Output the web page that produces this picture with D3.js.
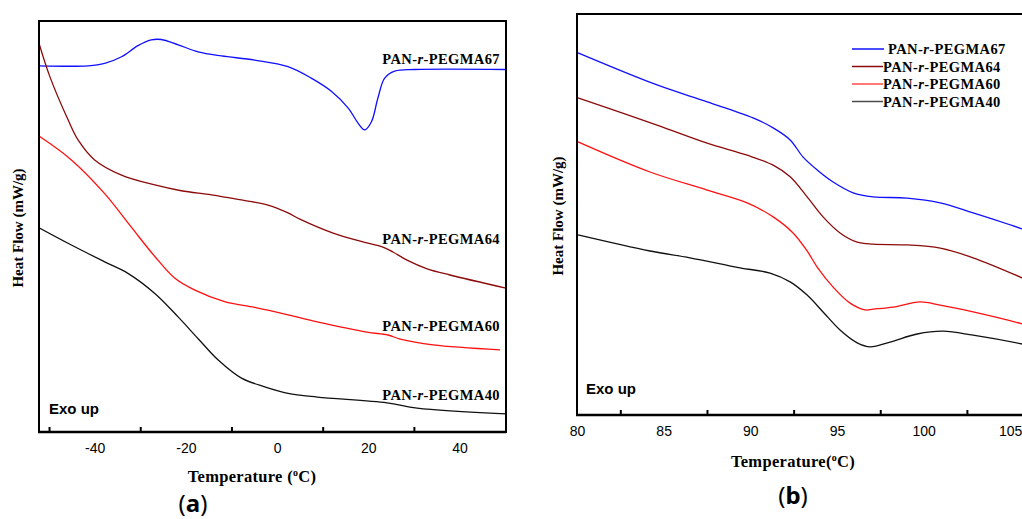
<!DOCTYPE html>
<html>
<head>
<meta charset="utf-8">
<script src="https://cdn.jsdelivr.net/npm/d3@7"></script>
<style>
  body { margin: 0; background: #fff; }
  text { fill: #000; }
</style>
</head>
<body>
<script>
var W = 1022, H = 519;

// temperature (deg C), heat flow (arbitrary units, exo up)
var names = ["PAN-r-PEGMA67", "PAN-r-PEGMA64", "PAN-r-PEGMA60", "PAN-r-PEGMA40"];
var colors = ["#1010ff", "#8b0a0a", "#ff1010", "#111111"];

var a67 = [[-52.2, 8.91], [-41.4, 8.91], [-37.8, 8.97], [-34.1, 9.13], [-30.5, 9.40], [-27.6, 9.54], [-25.4, 9.55],
  [-21.7, 9.42], [-17.3, 9.25], [-12.2, 9.15], [-4.9, 9.05], [2.4, 8.89], [7.5, 8.61], [11.9, 8.29], [15.6, 7.88],
  [17.8, 7.51], [19.2, 7.35], [20.7, 7.55], [22.1, 8.12], [23.6, 8.61], [25.8, 8.78], [30.2, 8.82], [50.2, 8.82]];
var a64 = [[-52.2, 9.46], [-49.8, 8.64], [-45.8, 7.59], [-43.6, 7.10], [-40.0, 6.62], [-34.1, 6.25], [-26.8, 6.01],
  [-21.0, 5.87], [-14.4, 5.77], [-8.6, 5.66], [-2.0, 5.52], [2.4, 5.33], [5, 5.18], [12.3, 4.84], [19.7, 4.6],
  [23.2, 4.5], [25.4, 4.38], [28.5, 4.18], [32.9, 3.97], [37.9, 3.82], [50.2, 3.5]];
var a60 = [[-52.2, 7.2], [-45.1, 6.62], [-37.8, 5.80], [-32.0, 4.99], [-26.8, 4.27], [-22.4, 3.74], [-18.0, 3.45],
  [-11.5, 3.17], [-4.9, 3.03], [2.4, 2.85], [8.8, 2.68], [19.7, 2.43], [24.3, 2.36], [27, 2.26], [34.2, 2.12], [48.9, 2.0]];
var a40 = [[-52.2, 4.97], [-45.1, 4.55], [-37.8, 4.14], [-32.7, 3.86], [-26.8, 3.37], [-21.7, 2.80], [-17.3, 2.27],
  [-12.9, 1.75], [-7.8, 1.31], [-2.7, 1.10], [2.4, 0.94], [8.8, 0.85], [24.1, 0.71], [30.7, 0.58], [50.2, 0.44]];

var b67 = [[80.06, 9.03], [84.62, 8.23], [87.51, 7.81], [90.16, 7.41], [91.32, 7.16], [92.3, 6.86], [93.05, 6.43],
  [93.86, 6.11], [94.78, 5.81], [95.94, 5.54], [97.09, 5.44], [99.05, 5.41], [100.96, 5.29], [102.86, 5.04], [105.69, 4.64], [106.2, 4.55]];
var b64 = [[80.06, 7.91], [84.62, 7.23], [87.51, 6.78], [89.82, 6.48], [91.32, 6.23], [92.3, 5.94], [93.28, 5.44],
  [94.2, 4.94], [95.18, 4.54], [96.17, 4.31], [97.09, 4.26], [99.05, 4.24], [100.96, 4.16], [102.86, 3.92], [105.69, 3.42], [106.2, 3.32]];
var b60 = [[80.06, 6.81], [84.21, 6.06], [87.51, 5.61], [89.82, 5.29], [91.32, 4.94], [92.47, 4.54], [93.28, 4.09],
  [93.86, 3.69], [94.78, 3.19], [95.76, 2.79], [96.63, 2.62], [97.09, 2.64], [98.24, 2.69], [99.8, 2.82],
  [100.96, 2.74], [102.86, 2.57], [105.69, 2.27], [106.2, 2.2]];
var b40 = [[80.06, 4.49], [84.21, 4.09], [86.52, 3.92], [89.41, 3.67], [91.14, 3.54], [92.3, 3.32], [93.28, 2.99],
  [94.2, 2.57], [95.18, 2.12], [96.17, 1.8], [96.92, 1.7], [98.07, 1.82], [99.63, 2.02], [101.13, 2.09],
  [102.86, 1.99], [105.69, 1.77], [106.2, 1.72]];

var ticksA = [-40, -20, 0, 20, 40];
var minorA = [-50, -30, -10, 10, 30];
var ticksB = [80, 85, 90, 95, 100, 105];
var minorB = [82.5, 87.5, 92.5, 97.5, 102.5];

var serif = "'Liberation Serif', 'Times New Roman', serif";
var sans = "'Liberation Sans', Arial, sans-serif";

var svg = d3.select("body").append("svg").attr("width", W).attr("height", H);

function panel(o) {
  var x = d3.scaleLinear().domain(o.xDomain).range([o.left, o.right]);
  var y = d3.scaleLinear().domain([0, 10]).range([o.bottom, o.top]);
  var g = svg.append("g");

  var clipId = "clip" + o.id;
  g.append("clipPath").attr("id", clipId).append("rect")
    .attr("x", o.left).attr("y", o.top)
    .attr("width", o.right - o.left).attr("height", o.bottom - o.top);

  var line = d3.line()
    .x(function (d) { return x(d[0]); })
    .y(function (d) { return y(d[1]); })
    .curve(d3.curveCatmullRom);

  g.append("g").attr("clip-path", "url(#" + clipId + ")")
    .selectAll("path").data(o.series).enter().append("path")
    .attr("d", line)
    .attr("fill", "none")
    .attr("stroke", function (d, i) { return colors[i]; })
    .attr("stroke-width", 1.3);

  // minor ticks (inward), no labels
  var minorAxis = d3.axisBottom(x).tickValues(o.minor).tickSize(-5).tickFormat("");
  g.append("g").attr("transform", "translate(0," + o.bottom + ")").call(minorAxis)
    .call(function (s) {
      s.select(".domain").remove();
      s.selectAll("line").attr("stroke-width", 2);
    });

  // labels
  var labAxis = d3.axisBottom(x).tickValues(o.ticks).tickSize(0).tickPadding(11)
    .tickFormat(function (d) { return d; });
  g.append("g").attr("transform", "translate(0," + o.bottom + ")").call(labAxis)
    .call(function (s) {
      s.select(".domain").remove();
      s.selectAll("text").attr("font-family", sans).attr("font-size", 14);
    });

  // frame
  var fr = g.append("g").attr("stroke", "#000").attr("stroke-width", 2).attr("fill", "none");
  fr.append("path").attr("d", "M" + o.left + "," + o.top + "H" + o.right);
  fr.append("path").attr("d", "M" + o.left + "," + (o.top - 1) + "V" + o.bottom);
  fr.append("path").attr("d", "M" + (o.left - 1) + "," + o.bottom + "H" + o.right).attr("stroke-width", 2.6);
  if (o.rightLine) fr.append("path").attr("d", "M" + o.right + "," + (o.top - 1) + "V" + (o.bottom + 1));

  // y title
  g.append("text")
    .attr("transform", "translate(" + o.yLabelX + "," + o.yLabelY + ") rotate(-90)")
    .attr("text-anchor", "middle")
    .attr("font-family", serif).attr("font-weight", "bold").attr("font-size", 15)
    .text("Heat Flow (mW/g)");

  // x title
  var xt = g.append("text")
    .attr("x", o.xLabelX).attr("y", o.xLabelY)
    .attr("text-anchor", "middle")
    .attr("font-family", serif).attr("font-weight", "bold").attr("font-size", 16.5)
    .attr("letter-spacing", 0.3);
  xt.append("tspan").text(o.xTitle);
  xt.append("tspan").attr("font-size", 10).attr("dy", -6).text("o");
  xt.append("tspan").attr("dy", 6).text("C)");

  g.append("text")
    .attr("x", o.exoX).attr("y", o.exoY)
    .attr("font-family", sans).attr("font-weight", "bold").attr("font-size", 15)
    .text("Exo up");

  var pl = g.append("text")
    .attr("x", o.panelX).attr("y", o.panelY)
    .attr("text-anchor", "middle")
    .attr("font-family", "'Noto Sans', sans-serif").attr("font-size", 24);
  pl.append("tspan").text("(");
  pl.append("tspan").attr("font-weight", "bold").text(o.panel);
  pl.append("tspan").text(")");

  return { x: x, y: y, g: g };
}

function seriesName(sel, name) {
  var parts = name.split("-r-");
  sel.append("tspan").text(parts[0] + "-");
  sel.append("tspan").attr("font-style", "italic").text("r");
  sel.append("tspan").text("-" + parts[1]);
}

var pa = panel({
  id: "a", xDomain: [-52.2, 50.2], left: 39, right: 506, top: 21, bottom: 432,
  series: [a67, a64, a60, a40], ticks: ticksA, minor: minorA, rightLine: true,
  yLabelX: 23, yLabelY: 228, xLabelX: 252, xLabelY: 482, xTitle: "Temperature (",
  exoX: 49, exoY: 414, panel: "a", panelX: 193, panelY: 512
});

var labelY = [64, 244, 331, 400];
names.forEach(function (n, i) {
  var t = pa.g.append("text")
    .attr("x", 500).attr("y", labelY[i])
    .attr("text-anchor", "end")
    .attr("font-family", serif).attr("font-weight", "bold").attr("font-size", 14.5)
    .attr("letter-spacing", 0.4);
  seriesName(t, n);
});

var pb = panel({
  id: "b", xDomain: [80, 106.2], left: 577, right: 1031, top: 14, bottom: 415,
  series: [b67, b64, b60, b40], ticks: ticksB, minor: minorB, rightLine: false,
  yLabelX: 563, yLabelY: 216, xLabelX: 793, xLabelY: 467, xTitle: "Temperature(",
  exoX: 586, exoY: 394, panel: "b", panelX: 793, panelY: 504
});

var leg = pb.g.append("g").attr("transform", "translate(852,49)");
names.forEach(function (n, i) {
  var row = leg.append("g").attr("transform", "translate(0," + (i * 17.5) + ")");
  row.append("line").attr("x1", 0).attr("x2", i === 0 ? 32 : 31)
    .attr("stroke", colors[i]).attr("stroke-width", 1.5).attr("opacity", i > 1 ? 0.75 : 1);
  var t = row.append("text").attr("x", i === 0 ? 36 : 31).attr("y", 5)
    .attr("font-family", serif).attr("font-weight", "bold").attr("font-size", 14.5)
    .attr("letter-spacing", 0.4);
  seriesName(t, n);
});
</script>
</body>
</html>
